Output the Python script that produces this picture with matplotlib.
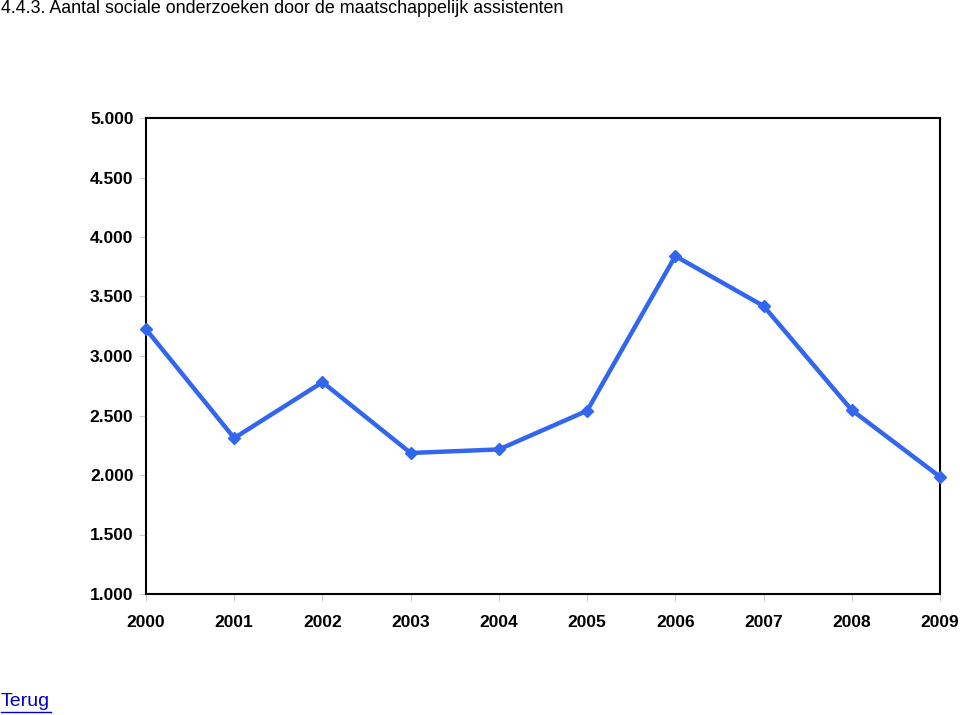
import matplotlib
matplotlib.use('Agg')
import matplotlib.pyplot as plt

years = ['2000', '2001', '2002', '2003', '2004', '2005', '2006', '2007', '2008', '2009']
values = [3225, 2310, 2780, 2185, 2215, 2540, 3840, 3420, 2545, 1985]
yticks = [1000, 1500, 2000, 2500, 3000, 3500, 4000, 4500, 5000]
ylabels = ['1.000', '1.500', '2.000', '2.500', '3.000', '3.500', '4.000', '4.500', '5.000']

plt.rcParams['font.family'] = ['Liberation Sans', 'DejaVu Sans']

fig = plt.figure(figsize=(9.6, 7.15), dpi=100)
ax = fig.add_axes([146/960, 1 - 594/715, (940-146)/960, (594-118)/715])

x = list(range(len(years)))
ax.plot(x, values, color='#3366EE', lw=3.2, marker='D', ms=6.5, clip_on=False, zorder=3)

ax.set_xlim(0, len(years) - 1)
ax.set_ylim(1000, 5000)
ax.set_xticks(x)
ax.set_xticklabels(years, fontsize=12.5, fontweight='bold')
ax.set_yticks(yticks)
ax.set_yticklabels(ylabels, fontsize=12.5, fontweight='bold')
ax.tick_params(axis='both', length=5, width=0.8, color='#cccccc')
ax.tick_params(axis='x', pad=10)
ax.tick_params(axis='y', pad=4)
for s in ax.spines.values():
    s.set_linewidth(1.5)
    s.set_color('black')

fig.text(1/960, 1, '4.4.3. Aantal sociale onderzoeken door de maatschappelijk assistenten',
         fontsize=12.9, va='top', ha='left')
fig.text(1/960, 1 - 702/715, 'Terug', fontsize=14, color='#0000CC', va='center', ha='left')
fig.add_artist(plt.Line2D([1/960, 51/960], [1 - 712/715, 1 - 712/715], color='#0000CC', lw=1))

fig.savefig('out.png', dpi=100)
